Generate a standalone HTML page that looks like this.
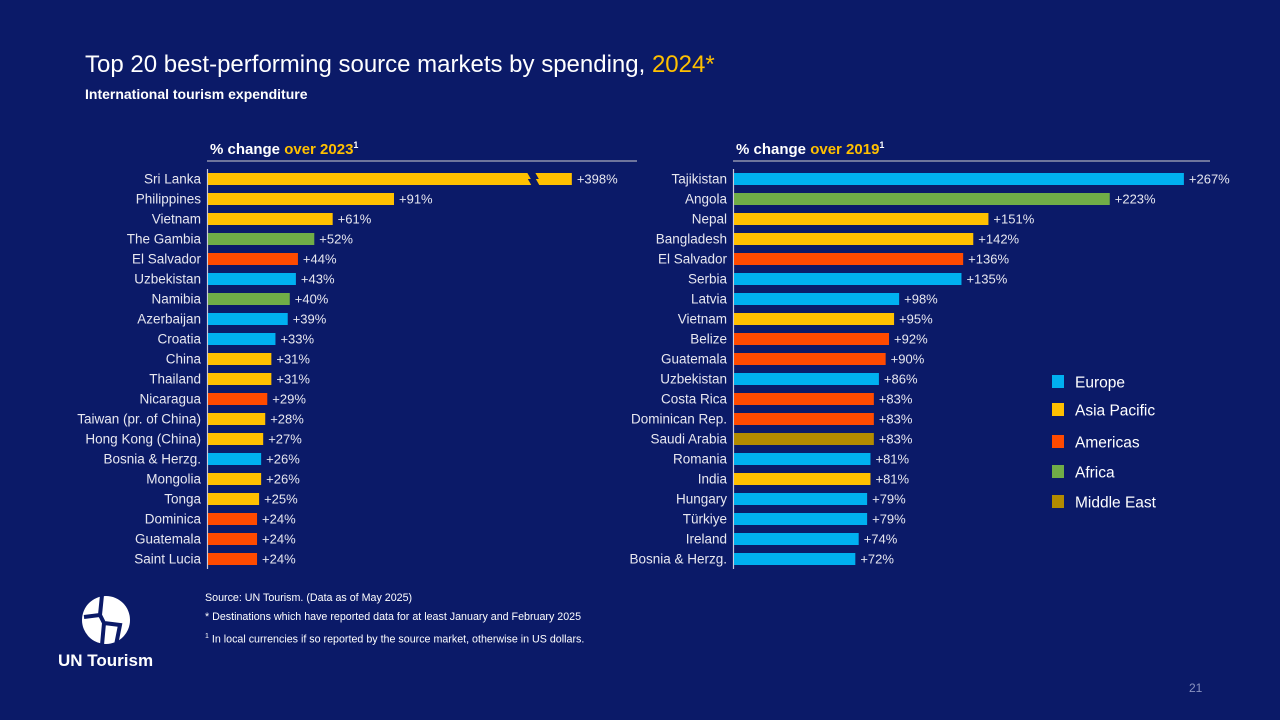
<!DOCTYPE html>
<html><head><meta charset="utf-8"><style>
body{margin:0;width:1280px;height:720px;background:#0b1a68;overflow:hidden;font-family:"Liberation Sans",sans-serif;color:#fff;position:relative}
.abs{position:absolute;white-space:nowrap}
</style></head><body>
<div class="abs" style="left:85px;top:51px;font-size:24px">Top 20 best-performing source markets by spending, <b style="color:#ffc000;font-weight:normal">2024*</b></div>
<div class="abs" style="left:85px;top:86px;font-size:14px;font-weight:bold">International tourism expenditure</div>
<svg id="chart" width="1280" height="720" style="position:absolute;left:0;top:0" font-family="Liberation Sans, sans-serif"></svg>
<div class="abs" style="left:205px;top:589px;font-size:10.7px;line-height:19px">Source: UN Tourism. (Data as of May 2025)<br>* Destinations which have reported data for at least January and February 2025<br><sup style="font-size:7px">1</sup> In local currencies if so reported by the source market, otherwise in US dollars.</div>
<svg class="abs" style="left:80px;top:595px" width="52" height="50">
<circle cx="26" cy="25" r="24" fill="#fff"/>
<path d="M22 0 L20 20 L4 22 M20 20 L24 28 L40 30 L36 50 M24 28 L22 50" stroke="#0b1a68" stroke-width="4" fill="none"/>
</svg>
<div class="abs" style="left:58px;top:651px;font-size:17px;font-weight:bold">UN Tourism</div>
<div class="abs" style="left:1189px;top:681px;font-size:12px;color:#8a93c0">21</div>
<script>
const leftCats=["Sri Lanka","Philippines","Vietnam","The Gambia","El Salvador","Uzbekistan","Namibia","Azerbaijan","Croatia","China","Thailand","Nicaragua","Taiwan (pr. of China)","Hong Kong (China)","Bosnia & Herzg.","Mongolia","Tonga","Dominica","Guatemala","Saint Lucia"];
const leftVals=[398,91,61,52,44,43,40,39,33,31,31,29,28,27,26,26,25,24,24,24];
const leftRegions=["A","A","A","F","M","E","F","E","E","A","A","M","A","A","E","A","A","M","M","M"];
const rightCats=["Tajikistan","Angola","Nepal","Bangladesh","El Salvador","Serbia","Latvia","Vietnam","Belize","Guatemala","Uzbekistan","Costa Rica","Dominican Rep.","Saudi Arabia","Romania","India","Hungary","Türkiye","Ireland","Bosnia & Herzg."];
const rightVals=[267,223,151,142,136,135,98,95,92,90,86,83,83,83,81,81,79,79,74,72];
const rightRegions=["E","F","A","A","M","E","E","A","M","M","E","M","M","D","E","A","E","E","E","E"];
const legendLabels=["Europe","Asia Pacific","Americas","Africa","Middle East"];
const legendKeys=["E","A","M","F","D"];
const colors={E:"#00b0f0",A:"#ffc000",M:"#ff4a00",F:"#70ad47",D:"#b38b00"};
const svg=document.getElementById('chart');const NS="http://www.w3.org/2000/svg";
function mk(t,a){const e=document.createElementNS(NS,t);for(const k in a)e.setAttribute(k,a[k]);svg.appendChild(e);return e;}
function panel(cats,vals,regs,x0,scale,cap,lineEnd,head,hl,name){
  const y=i=>179+i*20;
  const h=mk('text',{x:x0+3,y:154,'font-size':15,fill:'#fff','font-weight':'bold'});
  
  
  h.innerHTML='% change <tspan fill="#ffc000">'+hl+'</tspan><tspan font-size="9" dy="-6">1</tspan>';
  const hr=mk('line',{x1:x0,x2:lineEnd,y1:161,y2:161,stroke:'#aab',"stroke-width":1.2});
  
  
  const ax=mk('line',{x1:x0+0.5,x2:x0+0.5,y1:169,y2:569,stroke:'#ccd',"stroke-width":1.2});
  
  
  cats.forEach((c,i)=>{
    const v=vals[i];let w=Math.min(v,cap)*scale;
    const r=mk('rect',{x:x0+1,y:y(i)-6,width:w,height:12,fill:colors[regs[i]]});
    
    
    if(v>cap){const bx=x0+1+w-45;const b=mk('path',{d:`M${bx} ${y(i)-7} l4 7 l-3 0 l4 7 l8 0 l-4 -7 l3 0 l-4 -7z`,fill:'#0b1a68'});
      
      }
    const l=mk('text',{x:x0-6,y:y(i)+4.5,'font-size':13.5,fill:'#e8e8f0','text-anchor':'end'});l.textContent=c;
    
    
    const t=mk('text',{x:x0+1+w+5,y:y(i)+4.5,'font-size':13,fill:'#e8e8f0'});t.textContent='+'+v+'%';
    
    
  });
}
panel(leftCats,leftVals,leftRegions,207,2.044,178,637,'','over 2023','left-chart');
panel(rightCats,rightVals,rightRegions,733,1.685,999,1210,'','over 2019','right-chart');
const ly=[382,410,442,472,502];
legendLabels.forEach((lab,i)=>{
  const s=mk('rect',{x:1052,y:ly[i]-7,width:12,height:13,fill:colors[legendKeys[i]]});
  
  
  const t=mk('text',{x:1075,y:ly[i]+5.5,'font-size':15.5,fill:'#fff'});t.textContent=lab;
  
  
});
</script>
</body></html>
